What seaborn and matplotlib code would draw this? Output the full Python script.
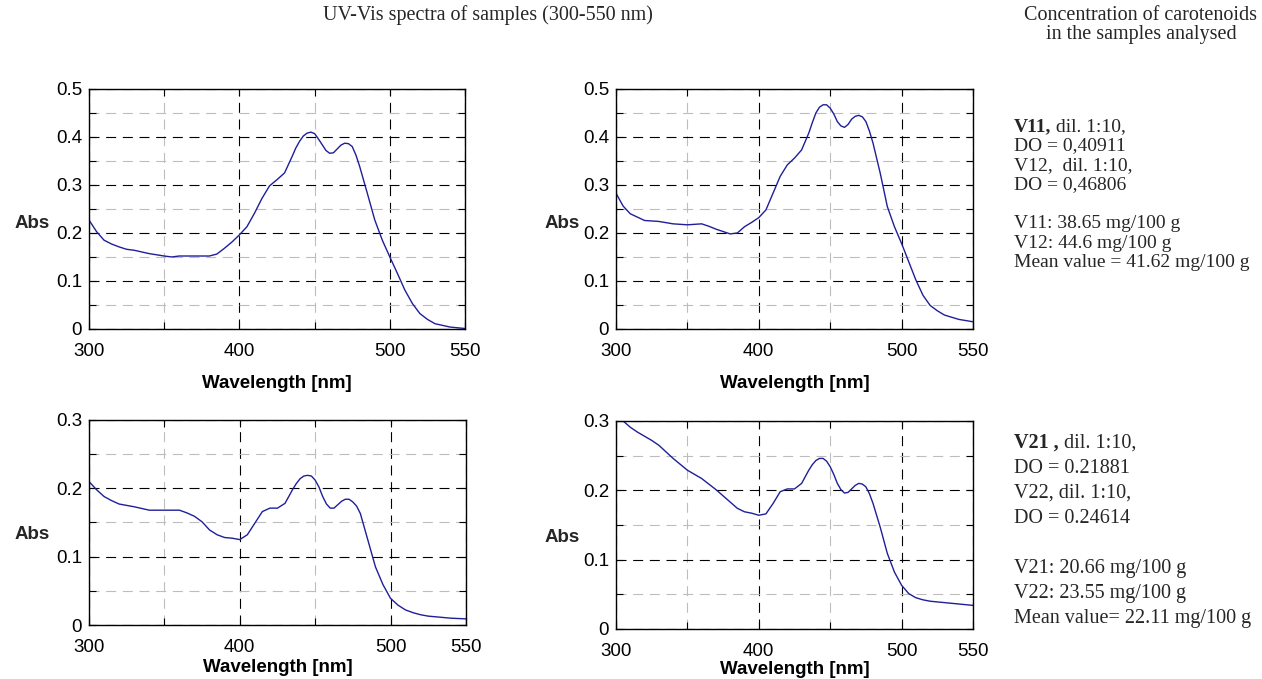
# UV-Vis spectra, four panels plus notes on the right

import pandas as pd
import seaborn as sns
import matplotlib.pyplot as plt
from matplotlib.ticker import FixedLocator, FuncFormatter

# wavelengths (nm)
wl = [300, 305, 310, 315, 320, 325, 330, 340, 350, 355, 360, 365, 370, 375,
      380, 385, 390, 395, 400, 405, 410, 415, 420, 425, 430, 435, 437.5, 440,
      442.5, 445, 447.5, 450, 452.5, 455, 457.5, 460, 462.5, 465, 467.5, 470,
      472.5, 475, 477.5, 480, 485, 490, 495, 500, 505, 510, 515,
      520, 525, 530, 540, 550]

v1 = [0.227, 0.203, 0.185, 0.177, 0.171, 0.166, 0.164, 0.157, 0.152, 0.150,
      0.152, 0.152, 0.152, 0.152, 0.152, 0.156, 0.168, 0.181, 0.196, 0.213,
      0.241, 0.272, 0.298, 0.311, 0.325, 0.359, 0.377, 0.391,
      0.402, 0.408, 0.410, 0.407, 0.396, 0.384, 0.372, 0.366, 0.367, 0.375,
      0.383, 0.387, 0.386, 0.380, 0.362, 0.338, 0.283, 0.227, 0.185, 0.150,
      0.116, 0.081, 0.053, 0.032, 0.020, 0.011, 0.004, 0.001]

v2 = [0.283, 0.256, 0.240, 0.233, 0.226, 0.225, 0.224, 0.219, 0.217, 0.218,
      0.219, 0.214, 0.208, 0.203, 0.198, 0.200, 0.213, 0.222, 0.232, 0.248,
      0.283, 0.318, 0.342, 0.356, 0.373, 0.408, 0.430, 0.450,
      0.462, 0.467, 0.467, 0.460, 0.448, 0.432, 0.423, 0.420, 0.426, 0.437,
      0.443, 0.445, 0.442, 0.432, 0.412, 0.387, 0.325, 0.255, 0.213, 0.178,
      0.140, 0.102, 0.070, 0.049, 0.038, 0.029, 0.020, 0.015]

v3 = [0.210, 0.198, 0.188, 0.182, 0.177, 0.175, 0.173, 0.168, 0.168, 0.168,
      0.168, 0.164, 0.159, 0.151, 0.139, 0.132, 0.128, 0.127, 0.125, 0.132,
      0.149, 0.166, 0.171, 0.171, 0.178, 0.198, 0.207, 0.214,
      0.218, 0.219, 0.218, 0.212, 0.202, 0.188, 0.177, 0.171, 0.171, 0.176,
      0.181, 0.184, 0.184, 0.180, 0.174, 0.163, 0.124, 0.085, 0.059, 0.039,
      0.029, 0.022, 0.018, 0.015, 0.013, 0.012, 0.010, 0.009]

v4 = [0.308, 0.300, 0.291, 0.284, 0.278, 0.272, 0.265, 0.246, 0.229, 0.223,
      0.217, 0.209, 0.201, 0.192, 0.183, 0.174, 0.169, 0.167, 0.164, 0.166,
      0.181, 0.198, 0.202, 0.202, 0.210, 0.229, 0.237, 0.243,
      0.246, 0.246, 0.242, 0.234, 0.223, 0.210, 0.201, 0.196, 0.197, 0.202,
      0.207, 0.210, 0.209, 0.205, 0.195, 0.181, 0.147, 0.109, 0.082, 0.063,
      0.051, 0.045, 0.042, 0.040, 0.039, 0.038, 0.036, 0.034]

spectra = [v1, v2, v3, v4]
ymax = [0.5, 0.5, 0.3, 0.3]

notes_top = ["DO = 0,40911", "V12,  dil. 1:10,", "DO = 0,46806", "",
             "V11: 38.65 mg/100 g", "V12: 44.6 mg/100 g",
             "Mean value = 41.62 mg/100 g"]
notes_bot = ["DO = 0.21881", "V22, dil. 1:10,", "DO = 0.24614", "",
             "V21: 20.66 mg/100 g", "V22: 23.55 mg/100 g",
             "Mean value= 22.11 mg/100 g"]

sns.set_theme(style="white")
plt.rcParams['font.family'] = ['Liberation Sans', 'DejaVu Sans']

fig = plt.figure(figsize=(12.62, 6.79), dpi=100)

# axes boxes (left, bottom, width, height) in figure fraction
boxes = [(0.0705, 0.5155, 0.2980, 0.3535),
         (0.4881, 0.5155, 0.2829, 0.3535),
         (0.0705, 0.0795, 0.2987, 0.3020),
         (0.4881, 0.0737, 0.2829, 0.3063)]
labelpads = [11, 11, 2, 1]

dash = (0, (9, 6))
for i, (box, vals) in enumerate(zip(boxes, spectra)):
    ax = fig.add_axes(box)
    df = pd.DataFrame({"wl": wl, "abs": vals})
    sns.lineplot(data=df, x="wl", y="abs", ax=ax, color="#1f1f99", lw=1.0)
    ax.set_xlim(300, 550)
    ax.set_ylim(0, ymax[i])

    ax.xaxis.set_major_locator(FixedLocator([300, 400, 500, 550]))
    ax.xaxis.set_minor_locator(FixedLocator([350, 450]))
    n = int(round(ymax[i] / 0.1))
    ax.yaxis.set_major_locator(FixedLocator([k * 0.1 for k in range(n + 1)]))
    ax.yaxis.set_minor_locator(FixedLocator([k * 0.1 + 0.05 for k in range(n)]))
    ax.yaxis.set_major_formatter(FuncFormatter(lambda v, p: "0" if abs(v) < 1e-9 else f"{v:.1f}"))

    ax.grid(True, which="major", color="black", lw=0.8, linestyle=dash)
    ax.grid(True, which="minor", color="#bdbdbd", lw=0.8, linestyle=dash)
    ax.set_axisbelow(True)
    ax.tick_params(which="both", direction="in", top=True, right=True,
                   bottom=True, left=True, length=5, width=0.8,
                   labelsize=13.5, colors="black")
    ax.tick_params(axis="x", pad=10)
    ax.tick_params(axis="y", pad=5)
    for s in ax.spines.values():
        s.set_color("black")
        s.set_linewidth(1.0)

    ax.set_xlabel("Wavelength [nm]", fontsize=13.5, fontweight="bold",
                  labelpad=labelpads[i], color="black")
    ax.set_ylabel("")
    ax.text(-0.15, 0.44, "Abs", transform=ax.transAxes, fontsize=13.5,
            fontweight="bold", ha="center", va="center")

# headings
serif = ['Liberation Serif', 'DejaVu Serif']
fig.text(488 / 1262, 1 - 15 / 679, "UV-Vis spectra of samples (300-550 nm)",
         family=serif, fontsize=14.5, ha="center", va="center")
fig.text(1141 / 1262, 1 - 15 / 679, "Concentration of carotenoids",
         family=serif, fontsize=14.5, ha="center", va="center")
fig.text(1141 / 1262, 1 - 34 / 679, "in the samples analysed",
         family=serif, fontsize=14.5, ha="center", va="center")


def notes(x, y0, step, bold, first, lines, size):
    head = fig.text(x, y0, bold, family=serif, fontsize=size,
                    fontweight="bold", ha="left", va="baseline")
    fig.add_artist(plt.Annotation(first, xy=(1, 0), xycoords=head,
                                  xytext=(0, 0), textcoords="offset points",
                                  family=serif, fontsize=size, ha="left",
                                  va="bottom", annotation_clip=False))
    for k, line in enumerate(lines):
        fig.text(x, y0 - (k + 1) * step, line, family=serif, fontsize=size,
                 ha="left", va="baseline")


notes(1014 / 1262, 1 - 131 / 679, 19.5 / 679, "V11,", " dil. 1:10,",
      notes_top, 14)
notes(1014 / 1262, 1 - 448 / 679, 25 / 679, "V21 ,", " dil. 1:10,",
      notes_bot, 14.5)

fig.savefig("out.png", dpi=100)
